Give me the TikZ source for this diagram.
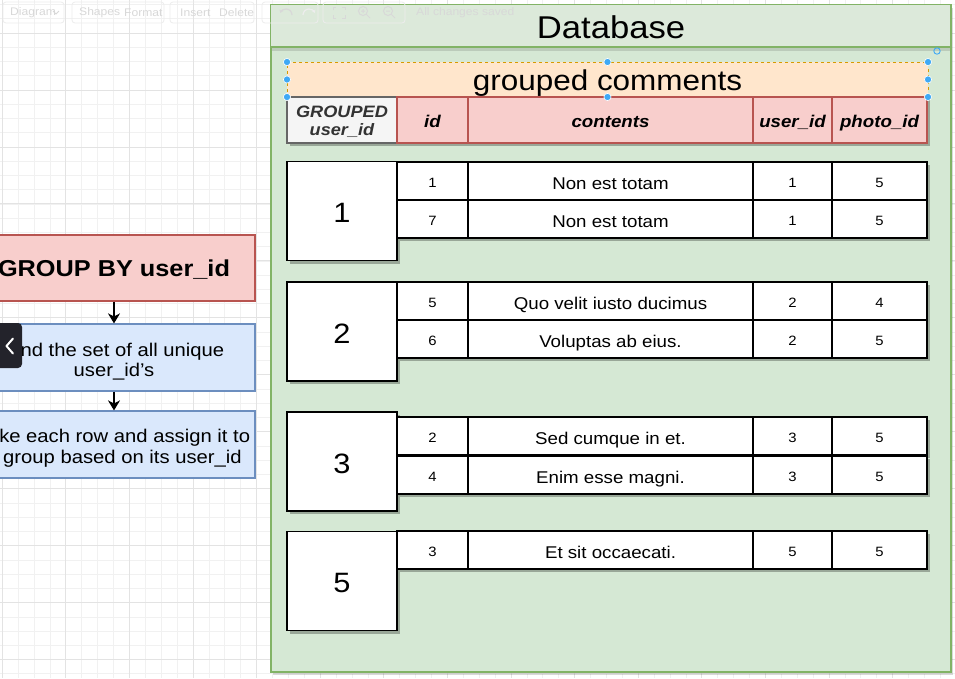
\documentclass[tikz,border=0pt]{standalone}
\usepackage{fontspec}
\setmainfont{Liberation Sans}[FakeStretch=1.1]
\usetikzlibrary{arrows.meta,shadows}
\definecolor{dbfill}{HTML}{D5E8D4}
\definecolor{dbhead}{HTML}{DCE9DA}
\definecolor{dbline}{HTML}{82B366}
\definecolor{orfill}{HTML}{FFE6CC}
\definecolor{orline}{HTML}{D79B00}
\definecolor{rdfill}{HTML}{F8CECC}
\definecolor{rdline}{HTML}{B85450}
\definecolor{gyfill}{HTML}{F5F5F5}
\definecolor{gyline}{HTML}{666666}
\definecolor{blfill}{HTML}{DAE8FC}
\definecolor{blline}{HTML}{6C8EBF}
\definecolor{hdl}{HTML}{3FA9F5}
\definecolor{btn}{HTML}{23232B}
\definecolor{gridmin}{HTML}{F1F1F1}
\definecolor{gridmaj}{HTML}{E3E3E3}
\definecolor{ui}{HTML}{D8D8D8}
\definecolor{uiline}{HTML}{EDEDED}
\tikzset{
  shd/.style={drop shadow={shadow xshift=3pt,shadow yshift=-3pt,fill=black,opacity=0.28}},
  grp/.style={draw=black,fill=white,line width=1.3pt,minimum width=110pt,minimum height=99pt,inner sep=0pt,
    font=\fontsize{28}{30}\selectfont,text height=23.4pt,text depth=0pt,shd},
  num/.style={draw=black,fill=white,line width=1.2pt,minimum height=38pt,inner sep=0pt,
    font=\fontsize{13.5}{15}\selectfont,text height=13.4pt,text depth=0pt,shd},
  txt/.style={num,font=\fontsize{17}{19}\selectfont,text height=16pt,text depth=0pt},
  hcell/.style={draw=rdline,fill=rdfill,line width=1.2pt,minimum height=46pt,inner sep=0pt,
    font=\fontsize{17}{19}\selectfont\bfseries\itshape,text height=14.6pt,text depth=0pt,shd},
  flowred/.style={draw=rdline,fill=rdfill,line width=1.2pt,minimum width=282pt,minimum height=66pt,inner sep=0pt,
    font=\fontsize{23}{25}\selectfont\bfseries,text height=17.4pt,text depth=0pt},
  flowblue/.style={draw=blline,fill=blfill,line width=1.2pt,minimum width=282pt,minimum height=67pt,inner sep=0pt},
  line/.style={anchor=base,inner sep=0pt,font=\fontsize{18.4}{22}\selectfont},
  arr/.style={draw=black,line width=1.3pt,-{Stealth[length=10pt,width=12pt,inset=3pt]}},
  handle/.style={fill=hdl,draw=white,line width=0.6pt},
  uitext/.style={text=ui,font=\fontsize{11}{13}\selectfont,inner sep=0pt},
  uibox/.style={draw=uiline,rounded corners=3pt,line width=0.8pt},
}
\newcommand\mkrow[6]{%
  \node[num,minimum width=71pt]  (#1a) at (432.5,#2) {#3};
  \node[txt,minimum width=285pt] (#1b) at (610.5,#2) {#4};
  \node[num,minimum width=79pt]  (#1c) at (792.5,#2) {#5};
  \node[num,minimum width=95pt]  (#1d) at (879.5,#2) {#6};
}
\begin{document}
\begin{tikzpicture}[x=1pt,y=-1pt]
\useasboundingbox (0,0) rectangle (955,678);
\clip (0,0) rectangle (955,678);
\fill[white] (0,0) rectangle (955,678);
% grid
\foreach \i in {0,...,60} { \draw[gridmin,line width=0.6pt] ({2.1+15.9*\i},0) -- ++(0,678); }
\foreach \i in {0,...,48} { \draw[gridmin,line width=0.6pt] (0,{4.5+14.24*\i}) -- ++(955,0); }
\foreach \i in {0,...,15} { \draw[gridmaj,line width=0.8pt] ({2.1+63.6*\i},0) -- ++(0,678); }
\foreach \i in {0,...,12} { \draw[gridmaj,line width=0.8pt] (0,{33+56.96*\i}) -- ++(955,0); }
% toolbar
\draw[uibox] (3,2) rectangle (64,23);
\draw[uibox] (72,2) rectangle (164,23);
\draw[uibox] (170,2) rectangle (254,23);
\node[uitext,anchor=west] (tdiag) at (10,12.5) {Diagram};
\draw[ui,line width=0.8pt] (53,11) -- (56,14) -- (59,11);
\node[uitext,anchor=west] (tshapes) at (79,12.5) {Shapes};
\node[uitext,anchor=west] (tformat) at (124,12.5) {Format};
\node[uitext,anchor=west] (tinsert) at (180,12.5) {Insert};
\node[uitext,anchor=west] (tdelete) at (219,12.5) {Delete};
% left flow
\node[flowred] (gb) at (114,268) {GROUP BY user\_id};
\node[flowblue] (b1) at (114,357.5) {};
\node[line] (b1l1) at (114,356.7) {Find the set of all unique};
\node[line] (b1l2) at (114,376.7) {user\_id's};
\node[flowblue] (b2) at (114,444.5) {};
\node[line] (b2l1) at (114,442.8) {Take each row and assign it to};
\node[line] (b2l2) at (114,463) {a group based on its user\_id};
\draw[arr] (gb.south) -- (b1.north);
\draw[arr] (b1.south) -- (b2.north);
\node[fill=btn,rounded corners=4pt,minimum width=32pt,minimum height=45pt,inner sep=0pt] (back) at (6,345.5) {};
\draw[white,line width=2pt,line cap=round,line join=round] (13,338.5) -- (6.5,346) -- (13,353.5);
% database container
\node[draw=dbline,fill=dbfill,line width=1.3pt,minimum width=680pt,minimum height=667pt,inner sep=0pt,
  drop shadow={shadow xshift=2pt,shadow yshift=-3pt,fill=black,opacity=0.15}] (db) at (611,338.5) {};
\fill[dbhead] ([shift={(0.7,0.7)}]db.north west) rectangle (950.3,47);
\fill[black,opacity=0.12] (272,47) rectangle (950.3,51);
\draw[dbline,line width=1.3pt] (271,47) -- (951,47);
\node[font=\fontsize{31.5}{34}\selectfont,inner sep=0pt] (dbt) at (611,27) {Database};
% toolbar items over the container
\draw[uibox] (262,2) rectangle (318,23);
\draw[uibox] (323,2) rectangle (405,23);
\draw[ui,line width=1.2pt,-{Stealth[length=3pt,width=4pt]}] (292,15) arc[start angle=0,end angle=160,radius=6pt];
\draw[uiline,line width=1.2pt,-{Stealth[length=3pt,width=4pt]}] (303,15) arc[start angle=180,end angle=20,radius=6pt];
\draw[ui,line width=1pt] (333,10) -- (333,7) -- (336,7) (342,7) -- (345,7) -- (345,10) (345,15) -- (345,18) -- (342,18) (336,18) -- (333,18) -- (333,15);
\draw[ui,line width=1pt] (363,11) circle (4.5pt) (366.5,14.5) -- (370,18) (361,11) -- (365,11) (363,9) -- (363,13);
\draw[ui,line width=1pt] (388,11) circle (4.5pt) (391.5,14.5) -- (395,18) (386,11) -- (390,11);
\node[uitext,anchor=west] (tsaved) at (416,13) {All changes saved};
% grouped comments title
\node[draw=orline,dashed,fill=orfill,line width=0.8pt,minimum width=641pt,minimum height=35pt,inner sep=0pt,
  font=\fontsize{28.6}{30}\selectfont,text height=21pt,text depth=0pt] (gc) at (607.5,79.5) {grouped comments};
% header row
\node[hcell,draw=gyline,fill=gyfill,minimum width=110pt] (h0) at (342,120) {};
\node[anchor=base,inner sep=0pt,text=black!80,font=\fontsize{16.5}{19}\selectfont\bfseries\itshape] (h0l1) at (342,117.3) {GROUPED};
\node[anchor=base,inner sep=0pt,text=black!80,font=\fontsize{16.5}{19}\selectfont\bfseries\itshape] (h0l2) at (342,135.2) {user\_id};
\node[hcell,minimum width=71pt]  (h1) at (432.5,120) {id};
\node[hcell,minimum width=285pt] (h2) at (610.5,120) {contents};
\node[hcell,minimum width=79pt]  (h3) at (792.5,120) {user\_id};
\node[hcell,minimum width=95pt]  (h4) at (879.5,120) {photo\_id};
% group 1
\node[grp] (g1) at (342,211) {1};
\mkrow{ra}{181}{1}{Non est totam}{1}{5}
\mkrow{rb}{219}{7}{Non est totam}{1}{5}
% group 2
\node[grp] (g2) at (342,331.5) {2};
\mkrow{rc}{301}{5}{Quo velit iusto ducimus}{2}{4}
\mkrow{rd}{339}{6}{Voluptas ab eius.}{2}{5}
% group 3
\node[grp] (g3) at (342,461.5) {3};
\mkrow{re}{436}{2}{Sed cumque in et.}{3}{5}
\mkrow{rf}{475}{4}{Enim esse magni.}{3}{5}
% group 5
\node[grp] (g5) at (342,581) {5};
\mkrow{rg}{550}{3}{Et sit occaecati.}{5}{5}
% selection handles
\foreach \p in {(287,62),(607.5,62),(928,62),(287,79.5),(928,79.5),(287,97),(607.5,97),(928,97)}
  { \filldraw[handle] \p circle (3.6pt); }
\draw[hdl,line width=0.9pt] (937,51) circle (3.2pt);
\end{tikzpicture}
\end{document}
